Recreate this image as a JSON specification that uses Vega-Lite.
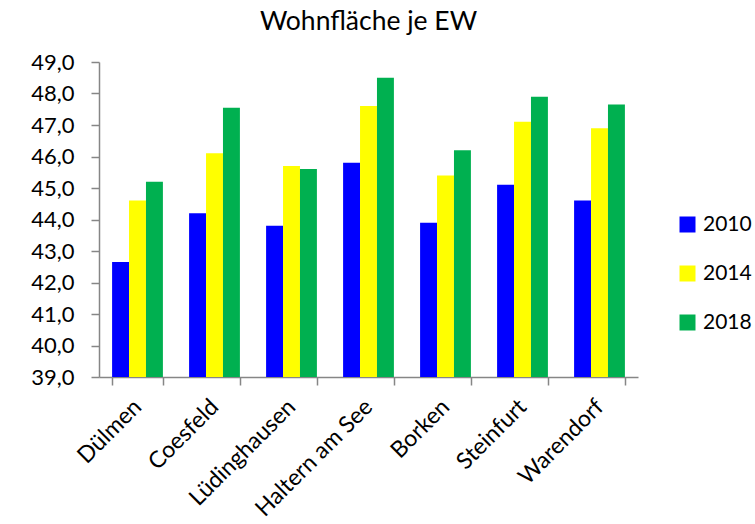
{
  "$schema": "https://vega.github.io/schema/vega-lite/v6.json",
  "width": 539,
  "height": 315,
  "autosize": {"type": "none"},
  "padding": {"left": 99, "top": 62, "right": 117, "bottom": 147},
  "background": "white",
  "config": {"view": {"stroke": null}, "font": "Lato"},
  "title": {"text": "Wohnfläche je EW", "fontSize": 26.5, "fontWeight": "normal", "font": "Lato", "color": "#000000", "offset": 16, "anchor": "middle"},
  "data": {"values": [
    {"kreis": "Dülmen", "jahr": "2010", "wert": 42.65},
    {"kreis": "Dülmen", "jahr": "2014", "wert": 44.6},
    {"kreis": "Dülmen", "jahr": "2018", "wert": 45.2},
    {"kreis": "Coesfeld", "jahr": "2010", "wert": 44.2},
    {"kreis": "Coesfeld", "jahr": "2014", "wert": 46.1},
    {"kreis": "Coesfeld", "jahr": "2018", "wert": 47.55},
    {"kreis": "Lüdinghausen", "jahr": "2010", "wert": 43.8},
    {"kreis": "Lüdinghausen", "jahr": "2014", "wert": 45.7},
    {"kreis": "Lüdinghausen", "jahr": "2018", "wert": 45.6},
    {"kreis": "Haltern am See", "jahr": "2010", "wert": 45.8},
    {"kreis": "Haltern am See", "jahr": "2014", "wert": 47.6},
    {"kreis": "Haltern am See", "jahr": "2018", "wert": 48.5},
    {"kreis": "Borken", "jahr": "2010", "wert": 43.9},
    {"kreis": "Borken", "jahr": "2014", "wert": 45.4},
    {"kreis": "Borken", "jahr": "2018", "wert": 46.2},
    {"kreis": "Steinfurt", "jahr": "2010", "wert": 45.1},
    {"kreis": "Steinfurt", "jahr": "2014", "wert": 47.1},
    {"kreis": "Steinfurt", "jahr": "2018", "wert": 47.9},
    {"kreis": "Warendorf", "jahr": "2010", "wert": 44.6},
    {"kreis": "Warendorf", "jahr": "2014", "wert": 46.9},
    {"kreis": "Warendorf", "jahr": "2018", "wert": 47.65}
  ]},
  "mark": {"type": "bar", "clip": true},
  "encoding": {
    "x": {
      "field": "kreis", "type": "nominal", "sort": null,
      "scale": {"paddingInner": 0.34, "paddingOuter": 0.17},
      "axis": {
        "title": null, "labelAngle": -45, "labelFontSize": 23, "labelColor": "#000000",
        "labelFont": "Lato", "labelBaseline": "middle", "labelAlign": "right",
        "domainColor": "#868686", "tickColor": "#868686",
        "tickBand": "extent", "tickSize": 8, "domainWidth": 1.5, "tickWidth": 1.5, "labelPadding": 18
      }
    },
    "xOffset": {"field": "jahr", "type": "nominal", "scale": {"paddingInner": 0, "paddingOuter": 0}},
    "y": {
      "field": "wert", "type": "quantitative",
      "scale": {"domain": [39, 49], "zero": false, "nice": false},
      "axis": {
        "title": null, "values": [39, 40, 41, 42, 43, 44, 45, 46, 47, 48, 49],
        "format": ".1f", "labelExpr": "replace(datum.label, '.', ',')",
        "labelFontSize": 22, "labelColor": "#000000", "labelFont": "Lato",
        "grid": false, "domainColor": "#868686", "tickColor": "#868686",
        "tickSize": 8, "domainWidth": 1.5, "tickWidth": 1.5, "labelPadding": 17
      }
    },
    "color": {
      "field": "jahr", "type": "nominal",
      "scale": {"domain": ["2010", "2014", "2018"], "range": ["#0000FF", "#FFFF00", "#00B050"]},
      "legend": {
        "title": null, "orient": "none", "legendX": 578, "legendY": 152,
        "symbolType": "square", "symbolSize": 256, "symbolStrokeWidth": 0,
        "labelFontSize": 21, "labelFont": "Lato", "labelColor": "#000000",
        "rowPadding": 27, "labelOffset": 5, "padding": 0
      }
    }
  }
}
